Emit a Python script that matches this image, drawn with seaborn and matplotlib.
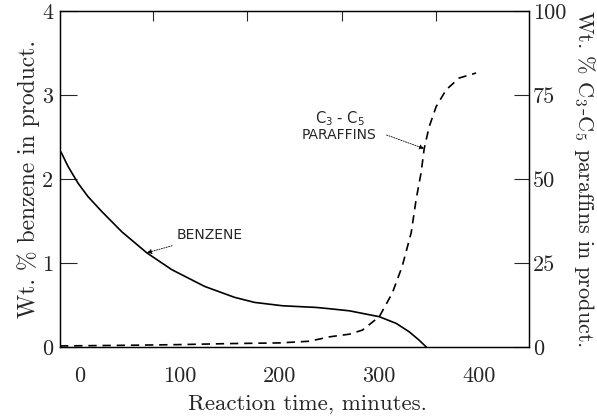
import matplotlib
matplotlib.use("Agg")
import matplotlib.pyplot as plt
import seaborn as sns
from matplotlib.ticker import FixedLocator

# ---- data ----
time_benzene = [-19, -12, -2, 8, 22, 42, 67, 92, 125, 155, 175, 203, 237, 250, 270, 300, 317, 330, 340, 347]
benzene_wt = [2.32, 2.15, 1.95, 1.79, 1.61, 1.37, 1.12, 0.92, 0.72, 0.59, 0.53, 0.49, 0.47, 0.455, 0.43, 0.36, 0.28, 0.18, 0.08, 0.0]

time_paraffin = [-20, 50, 100, 150, 200, 230, 250, 270, 283, 300, 313, 323, 332, 337, 342, 345, 350, 357, 367, 380, 397]
paraffin_wt = [0.3, 0.5, 0.7, 1.0, 1.2, 1.7, 3.0, 3.8, 5.0, 9, 16, 24, 34, 44, 52, 59, 65.5, 71.5, 76.5, 80, 81.5]

x_ticks = [0, 100, 200, 300, 400]
left_ticks = [0, 1, 2, 3, 4]
right_ticks = [0, 25, 50, 75, 100]
top_minor_ticks = [73, 167, 263, 357]

sns.set_style("ticks")
plt.rcParams['font.family'] = ['cmr10', 'DejaVu Serif']
plt.rcParams['mathtext.fontset'] = 'cm'
plt.rcParams['axes.formatter.use_mathtext'] = True
plt.rcParams['axes.unicode_minus'] = False

FS = 16.5
TFS = 16

fig, ax = plt.subplots(figsize=(5.97, 4.16), dpi=100)
fig.subplots_adjust(left=0.1005, right=0.886, bottom=0.166, top=0.974)
ax2 = ax.twinx()

sns.lineplot(x=time_benzene, y=benzene_wt, ax=ax, color='black', lw=1.2)
sns.lineplot(x=time_paraffin, y=paraffin_wt, ax=ax2, color='black', lw=1.2,
             linestyle=(0, (5, 3.5)))

ax.set_xlim(-20, 450)
ax.set_ylim(0, 4)
ax2.set_ylim(0, 100)

ax.set_xticks(x_ticks)
ax.set_xticklabels([str(v) for v in x_ticks])
ax.set_yticks(left_ticks)
ax.set_yticklabels([str(v) for v in left_ticks])
ax2.set_yticks(right_ticks)
ax2.set_yticklabels([str(v) for v in right_ticks])

ax.tick_params(axis='x', which='major', length=0, pad=14, labelsize=TFS)
ax.tick_params(axis='y', direction='in', length=12, width=0.8, pad=5, labelsize=TFS)
ax2.tick_params(axis='y', direction='in', length=11, width=0.8, pad=3, labelsize=TFS)
ax.xaxis.set_minor_locator(FixedLocator(top_minor_ticks))
ax.tick_params(axis='x', which='minor', direction='in', top=True, bottom=False,
               length=7, width=0.8)

for a in (ax, ax2):
    for s in a.spines.values():
        s.set_linewidth(0.9)
        s.set_color('black')

ax.set_xlabel("Reaction time, minutes.", fontsize=FS, va='center')
ax.xaxis.set_label_coords(0.527, -0.170)
ax.set_ylabel("Wt. % benzene in product.", fontsize=17, va='center')
ax.yaxis.set_label_coords(-0.066, 0.5)
ax2.set_ylabel("Wt. % C$_3$-C$_5$ paraffins in product.", fontsize=16, rotation=270, va='center')
ax2.yaxis.set_label_coords(1.118, 0.5)

arrow = dict(arrowstyle='-|>', linestyle=(0, (1.5, 1.5)), lw=0.6, color='black',
             mutation_scale=7, shrinkA=1, shrinkB=0)
ax.annotate("BENZENE", xy=(67, 1.12), xytext=(97, 1.33), fontsize=10,
            family='DejaVu Sans', ha='left', va='center', arrowprops=arrow)

ax2.text(261, 68, "C$_3$ - C$_5$", fontsize=10.5, family='DejaVu Sans', ha='center', va='center',
         math_fontfamily='dejavusans')
ax2.text(260, 63.2, "PARAFFINS", fontsize=10, family='DejaVu Sans', ha='center', va='center')
ax2.annotate("", xy=(345, 59), xytext=(306, 63.2), arrowprops=arrow)

fig.savefig("out.png", dpi=100)
